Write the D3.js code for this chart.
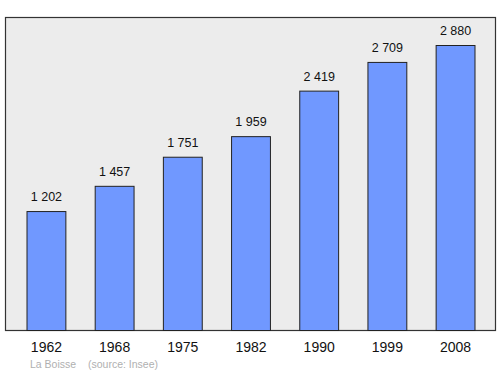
<!DOCTYPE html>
<html>
<head>
<meta charset="utf-8">
<script src="https://cdn.jsdelivr.net/npm/d3@7"></script>
<style>
  body { margin: 0; background: #fff; }
  text { font-family: "Liberation Sans", Arial, sans-serif; }
</style>
</head>
<body>
<svg id="chart" width="500" height="374"></svg>
<script>
// population by census year
const years = ['1962', '1968', '1975', '1982', '1990', '1999', '2008'];
const population = [1202, 1457, 1751, 1959, 2419, 2709, 2880];
const commune = 'La Boisse';
const source = '(source: Insee)';

const svg = d3.select('#chart');
const frame = { left: 5.5, top: 17.5, right: 495.5, bottom: 330.5 };

// plot frame
svg.append('rect')
    .attr('x', frame.left)
    .attr('y', frame.top)
    .attr('width', frame.right - frame.left)
    .attr('height', frame.bottom - frame.top)
    .attr('fill', '#ececec')
    .attr('stroke', '#333')
    .attr('stroke-width', 1.2);

const x = d3.scaleBand()
    .domain(years)
    .range([12, 490])
    .paddingInner(0.43)
    .paddingOuter(0.22);

const y = d3.scaleLinear()
    .domain([0, d3.max(population)])
    .range([frame.bottom, 45.5]);

const data = years.map((yr, i) => ({ year: yr, value: population[i] }));
const fmt = v => d3.format(',')(v).replace(',', ' ');

svg.append('g').selectAll('rect')
    .data(data)
    .join('rect')
    .attr('x', d => x(d.year))
    .attr('y', d => y(d.value))
    .attr('width', x.bandwidth())
    .attr('height', d => frame.bottom - y(d.value))
    .attr('fill', '#7098ff')
    .attr('stroke', '#222')
    .attr('stroke-width', 1);

// value labels
svg.append('g').selectAll('text')
    .data(data)
    .join('text')
    .attr('x', d => x(d.year) + x.bandwidth() / 2)
    .attr('y', d => y(d.value) - 10.5)
    .attr('text-anchor', 'middle')
    .attr('font-size', 12.5)
    .attr('fill', '#111')
    .text(d => fmt(d.value));

// year labels
svg.append('g').selectAll('text')
    .data(data)
    .join('text')
    .attr('x', d => x(d.year) + x.bandwidth() / 2)
    .attr('y', 352)
    .attr('text-anchor', 'middle')
    .attr('font-size', 14)
    .attr('fill', '#111')
    .text(d => d.year);

// footer
svg.append('text')
    .attr('x', 30)
    .attr('y', 368)
    .attr('font-size', 10.5)
    .attr('fill', '#b0b0b0')
    .text(commune);

svg.append('text')
    .attr('x', 88)
    .attr('y', 368)
    .attr('font-size', 10.5)
    .attr('fill', '#b0b0b0')
    .text(source);
</script>
</body>
</html>
